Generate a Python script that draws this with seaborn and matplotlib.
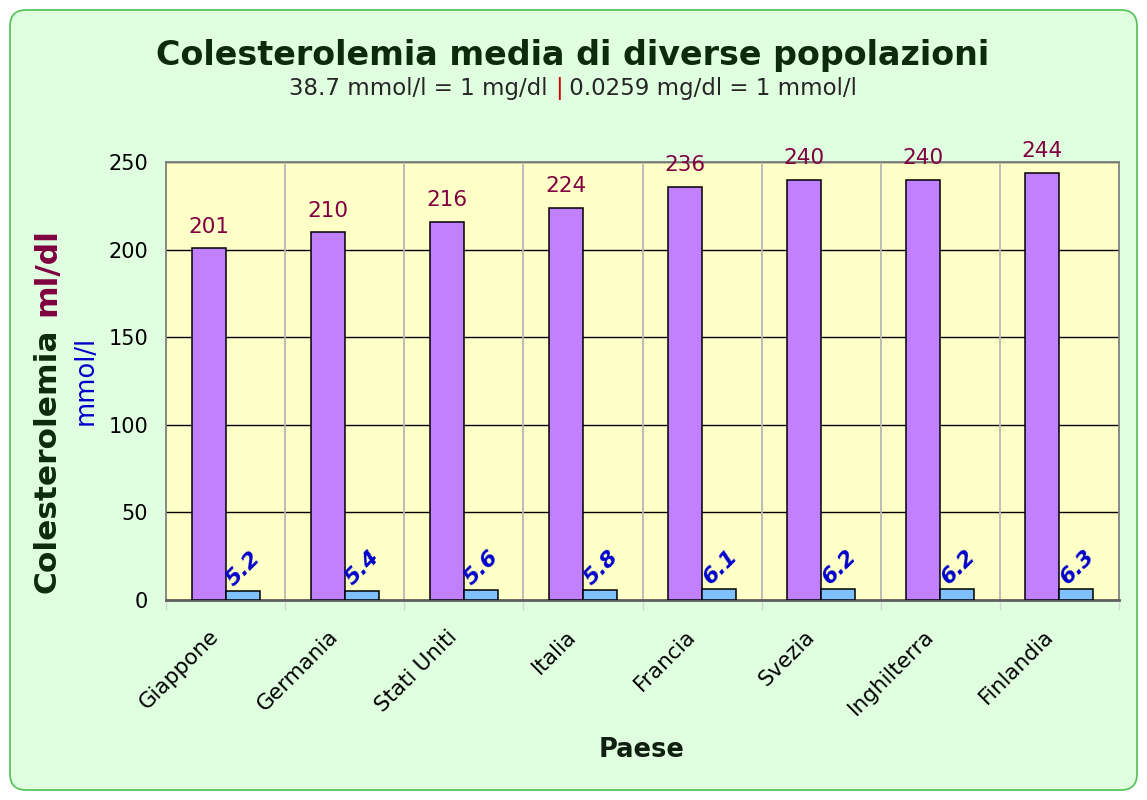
import matplotlib
matplotlib.use("Agg")
import matplotlib.pyplot as plt
from matplotlib.patches import FancyBboxPatch
from matplotlib.transforms import IdentityTransform, ScaledTranslation
import seaborn as sns
import pandas as pd

# Data
paesi = ["Giappone", "Germania", "Stati Uniti", "Italia",
         "Francia", "Svezia", "Inghilterra", "Finlandia"]
mg_dl = [201, 210, 216, 224, 236, 240, 240, 244]
mmol_l = [5.2, 5.4, 5.6, 5.8, 6.1, 6.2, 6.2, 6.3]
serie = ["mg/dl", "mmol/l"]
y_ticks = [0, 50, 100, 150, 200, 250]

df = pd.DataFrame({
    "Paese": paesi * 2,
    "valore": mg_dl + mmol_l,
    "unita": [serie[0]] * len(paesi) + [serie[1]] * len(paesi),
})

sns.set_theme(style="white")
plt.rcParams["font.family"] = ["DejaVu Sans"]

W, H = 1147, 800
fig = plt.figure(figsize=(W / 100, H / 100), dpi=100)
fig.patch.set_facecolor("white")

# rounded green background panel (behind the axes)
bg = FancyBboxPatch((10, 10), W - 20, H - 20,
                    boxstyle="round,pad=0,rounding_size=16",
                    transform=IdentityTransform(), facecolor="#e0ffe0",
                    edgecolor="#5cc45c", linewidth=1.3, zorder=-1)
fig.patches.append(bg)

ax = fig.add_axes([166 / W, 1 - 600 / H, (1119 - 166) / W, (600 - 162) / H])
ax.set_facecolor("#ffffc8")

sns.barplot(data=df, x="Paese", y="valore", hue="unita",
            palette=["#c080ff", "#80c0ff"], saturation=1, width=0.57, gap=0,
            edgecolor="black", linewidth=1.1, ax=ax, legend=False, zorder=3)

ax.set_ylim(0, 250)
ax.set_xlim(-0.5, len(paesi) - 0.5)
ax.set_yticks(y_ticks)
ax.yaxis.grid(True, color="black", linewidth=1.0, zorder=1)
ax.set_axisbelow(True)
for i in range(1, len(paesi)):
    ax.axvline(i - 0.5, color="#b8b8b8", linewidth=1.3, zorder=1)
# short grey marks below the axis at the category boundaries
ax.set_xticks([i - 0.5 for i in range(len(paesi) + 1)], minor=True)
ax.tick_params(axis="x", which="minor", length=7, width=1, color="#d0d8d0",
               direction="out", bottom=True)
for s in ax.spines.values():
    s.set_color("#808080")
    s.set_linewidth(1.3)
ax.spines["bottom"].set_color("#606060")
ax.spines["bottom"].set_linewidth(2)

ax.tick_params(axis="y", labelsize=15, length=0, pad=13, colors="black")
ax.tick_params(axis="x", which="major", labelsize=15.5, length=0, pad=23, colors="black")
shift = ScaledTranslation(-0.11, 0, fig.dpi_scale_trans)
for lab in ax.get_xticklabels():
    lab.set_rotation(45)
    lab.set_ha("right")
    lab.set_va("center_baseline")
    lab.set_rotation_mode("anchor")
    lab.set_transform(lab.get_transform() + shift)
ax.set_ylabel("")
ax.set_xlabel("")
fig.text(642 / W, 1 - 750 / H, "Paese", ha="center", va="center",
         fontsize=18.5, fontweight="bold", color="#102010")

# value labels
purple_bars, blue_bars = ax.containers[0], ax.containers[1]
for bar, v in zip(purple_bars, mg_dl):
    ax.annotate(str(v), (bar.get_x() + bar.get_width() / 2, bar.get_height()),
                xytext=(0, 8), textcoords="offset points", ha="center",
                va="bottom", fontsize=15.5, color="#800040", zorder=5)
for bar, v in zip(blue_bars, mmol_l):
    ax.annotate(f"{v}", (bar.get_x(), bar.get_height()),
                xytext=(6, 3), textcoords="offset points", ha="left",
                va="baseline", rotation=45, rotation_mode="anchor",
                fontsize=16, fontweight="bold", fontstyle="italic",
                color="#0000cc", zorder=5)

# title and subtitle
fig.text(573 / W, 1 - 55 / H, "Colesterolemia media di diverse popolazioni",
         ha="center", va="center", fontsize=24, fontweight="bold", color="#0c2a0c")

fig.canvas.draw()
r = fig.canvas.get_renderer()
sub_y = 1 - 89 / H
left = fig.text(0, sub_y, "38.7 mmol/l = 1 mg/dl ", fontsize=16.5, va="center")
bar_t = fig.text(0, sub_y, "|", fontsize=16.5, va="center", color="#cc0000")
right = fig.text(0, sub_y, " 0.0259 mg/dl = 1 mmol/l", fontsize=16.5, va="center")
widths = [t.get_window_extent(r).width for t in (left, bar_t, right)]
x0 = 573 - sum(widths) / 2
for t, w in zip((left, bar_t, right), widths):
    t.set_x(x0 / W)
    x0 += w

# two-colour rotated y label
t1 = fig.text(47 / W, 1 - 593 / H, "Colesterolemia", rotation=90,
              ha="center", va="bottom", fontsize=22.5, fontweight="bold", color="#0c2a0c")
fig.canvas.draw()
top = t1.get_window_extent(r).y1
fig.text(47 / W, (top + 13) / H, "ml/dl", rotation=90, ha="center", va="bottom",
         fontsize=22.5, fontweight="bold", color="#800040")
fig.text(86 / W, 1 - 380 / H, "mmol/l", rotation=90, ha="center", va="center",
         fontsize=18.5, color="#0000cc")

fig.savefig("out.png", dpi=100)
